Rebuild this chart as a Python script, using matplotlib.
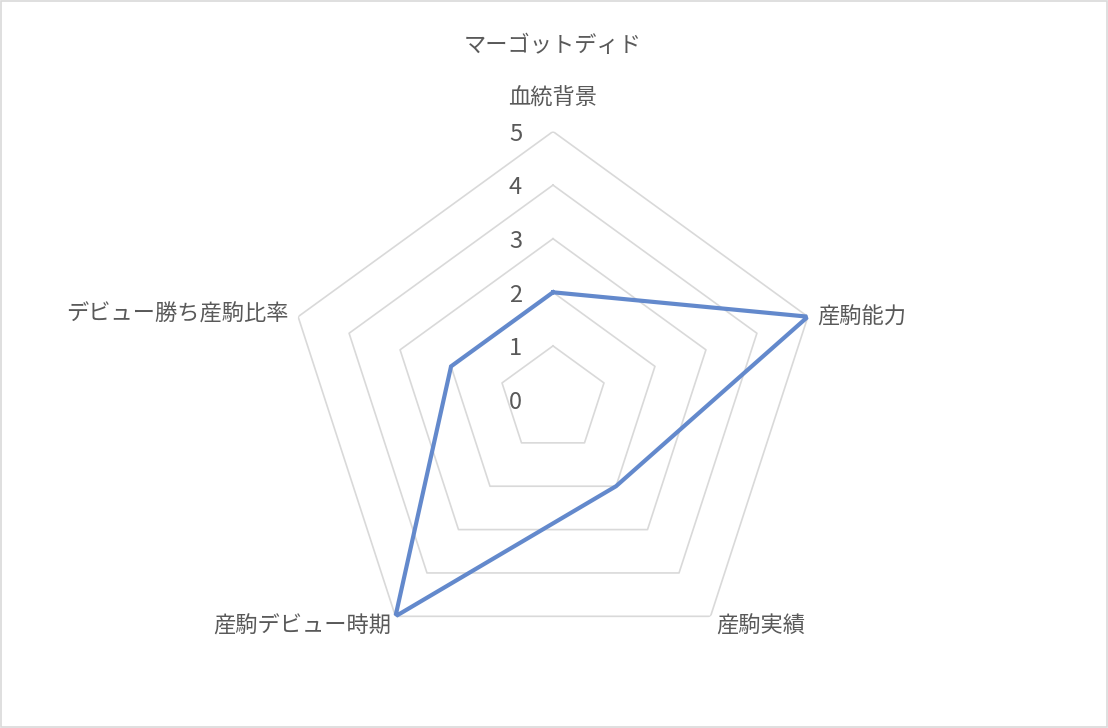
import matplotlib
matplotlib.use("Agg")
import matplotlib.pyplot as plt
import numpy as np

plt.rcParams['font.family'] = ['Noto Sans CJK JP', 'DejaVu Sans']

title = "マーゴットディド"
categories = ["血統背景", "産駒能力", "産駒実績", "産駒デビュー時期", "デビュー勝ち産駒比率"]
values = [2, 5, 2, 5, 2]
rings = [1, 2, 3, 4, 5]
tick_labels = ["0", "1", "2", "3", "4", "5"]

text_color = "#595959"
grid_color = "#D9D9D9"
line_color = "#6389CC"

n = len(categories)
angles = np.linspace(0, 2 * np.pi, n, endpoint=False)
closed = np.append(angles, angles[0])

fig = plt.figure(figsize=(11.08, 7.28), dpi=100)
# light frame around the chart area
fig.patches.append(plt.Rectangle((0.001, 0.001), 0.998, 0.997, transform=fig.transFigure,
                                 fill=False, edgecolor=grid_color, linewidth=1.2))

ax = fig.add_axes([285 / 1108, 60.5 / 728, 536 / 1108, 536 / 728], projection="polar")
ax.set_theta_zero_location("N")
ax.set_theta_direction(-1)
ax.set_ylim(0, 5)
ax.grid(False)
ax.spines["polar"].set_visible(False)
ax.set_xticks([])
ax.set_yticks([])
ax.patch.set_alpha(0)

# pentagon gridlines
for r in rings:
    ax.plot(closed, [r] * (n + 1), color=grid_color, linewidth=1.2, zorder=1)

# data series
ax.plot(closed, values + values[:1], color=line_color, linewidth=3.0, zorder=3,
        solid_joinstyle="miter")

# radial value labels
for i, lab in enumerate(tick_labels):
    ax.annotate(lab, xy=(0, i), xytext=(-27, -2), textcoords="offset points",
                ha="center", va="center", fontsize=17, color=text_color)

# category labels
offsets = [((0, 24), "center", "center"),
           ((7, 0), "left", "center"),
           ((4, -7), "left", "center"),
           ((-3, -7), "right", "center"),
           ((-7, 2), "right", "center")]
for ang, cat, (off, ha, va) in zip(angles, categories, offsets):
    ax.annotate(cat, xy=(ang, 5), xytext=off, textcoords="offset points",
                ha=ha, va=va, fontsize=16, color=text_color)

fig.text(553 / 1108, 1 - 45 / 728, title, ha="center", va="center",
         fontsize=16, color=text_color)

fig.savefig("out.png", dpi=100)
